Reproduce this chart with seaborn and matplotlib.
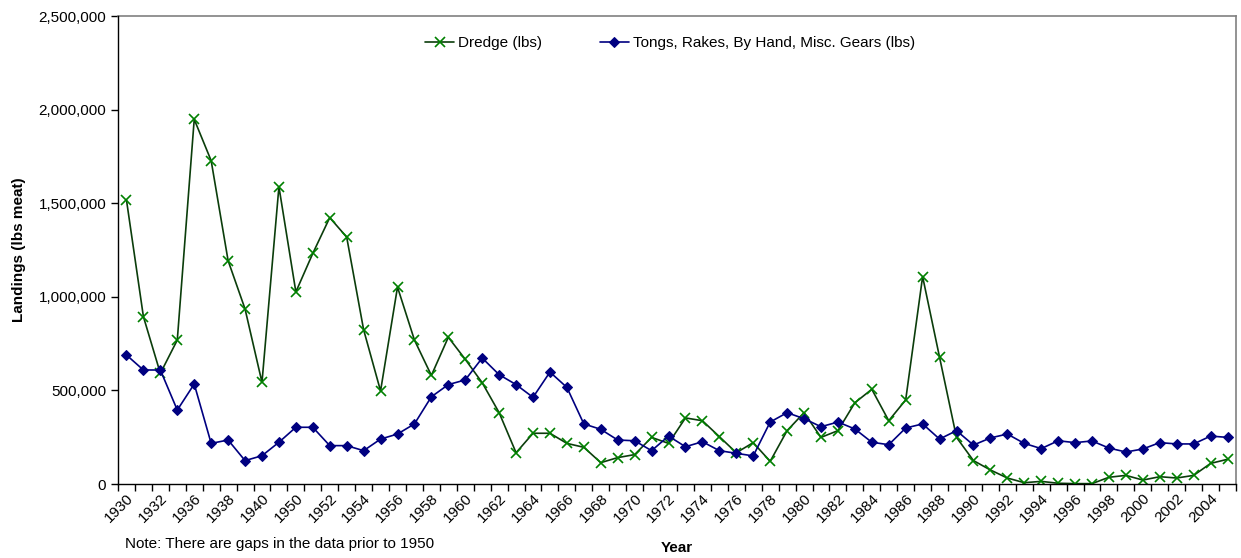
import numpy as np
import pandas as pd
import matplotlib
matplotlib.use('Agg')
import matplotlib.pyplot as plt
import seaborn as sns
from matplotlib.ticker import FuncFormatter, FixedLocator

# category years (gaps before 1950)
years = [1930, 1931, 1932, 1934, 1936, 1937, 1938, 1939, 1940, 1945] + list(range(1950, 2006))

dredge = [1517000, 894000, 591000, 769000, 1948000, 1727000, 1193000, 935000, 543000, 1588000,
          1026000, 1232000, 1423000, 1319000, 824000, 497000, 1052000, 769000, 580000, 784000,
          666000, 541000, 381000, 167000, 271000, 271000, 217000, 196000, 114000, 141000,
          157000, 249000, 217000, 353000, 338000, 253000, 167000, 221000, 121000, 285000,
          381000, 249000, 285000, 434000, 506000, 338000, 449000, 1108000, 677000, 249000,
          125000, 75000, 32000, 7000, 14000, 4000, 2000, 2000, 36000, 46000,
          21000, 39000, 32000, 46000, 110000, 132000]

tongs = [689000, 609000, 609000, 395000, 534000, 217000, 235000, 125000, 151000, 223000,
         303000, 303000, 205000, 205000, 178000, 240000, 267000, 321000, 466000, 531000,
         556000, 673000, 584000, 531000, 463000, 598000, 516000, 321000, 292000, 235000,
         231000, 178000, 256000, 199000, 226000, 178000, 164000, 150000, 331000, 381000,
         349000, 306000, 331000, 294000, 223000, 210000, 299000, 321000, 240000, 285000,
         208000, 246000, 267000, 217000, 189000, 231000, 221000, 230000, 192000, 171000,
         187000, 221000, 214000, 214000, 256000, 249000]

sns.set_style("white")
plt.rcParams['font.family'] = ['Liberation Sans', 'DejaVu Sans']
plt.rcParams['text.color'] = 'black'
plt.rcParams['axes.labelcolor'] = 'black'
plt.rcParams['xtick.color'] = 'black'
plt.rcParams['ytick.color'] = 'black'

df = pd.DataFrame({'pos': np.arange(len(years)), 'year': years,
                   'dredge': dredge, 'tongs': tongs})

fig = plt.figure(figsize=(12.41, 5.58), dpi=100)
ax = fig.add_axes([118 / 1241, 1 - 484 / 558, 1118 / 1241, 468 / 558])

sns.lineplot(data=df, x='pos', y='dredge', ax=ax, color='#0b3d0b', linewidth=1.2,
             marker='x', markersize=7, markeredgecolor='#008000', markeredgewidth=1.2,
             label='Dredge (lbs)')
sns.lineplot(data=df, x='pos', y='tongs', ax=ax, color='#000080', linewidth=1.2,
             marker='D', markersize=5.5, markeredgecolor='#000080', markerfacecolor='#000080',
             label='Tongs, Rakes, By Hand, Misc. Gears (lbs)')

ax.set_xlim(-0.5, len(years) - 0.5)
ax.set_ylim(0, 2500000)
ax.set_yticks(np.arange(0, 2500001, 500000))
ax.yaxis.set_major_formatter(FuncFormatter(lambda v, p: f'{int(v):,}'))

major = df['pos'][::2].tolist()
ax.xaxis.set_major_locator(FixedLocator(major))
ax.set_xticklabels([str(y) for y in df['year'][::2]], rotation=45, ha='right',
                   rotation_mode='anchor', fontsize=11)
ax.xaxis.set_minor_locator(FixedLocator(np.arange(-0.5, len(years), 1.0)))
ax.tick_params(axis='x', which='major', length=0, pad=5)
ax.tick_params(axis='x', which='minor', length=5, width=1, direction='out', color='black', bottom=True)
ax.tick_params(axis='y', length=5, width=1, direction='out', color='black', left=True, labelsize=11)

for s in ['top', 'right']:
    ax.spines[s].set_color('#808080')
    ax.spines[s].set_linewidth(1.2)
for s in ['left', 'bottom']:
    ax.spines[s].set_color('black')
    ax.spines[s].set_linewidth(1)
    ax.spines[s].set_zorder(5)

ax.set_xlabel('')
ax.set_ylabel('Landings (lbs meat)', fontsize=11, fontweight='bold')
ax.yaxis.set_label_coords(-0.082, 0.5)

fig.text(677 / 1241, 1 - 548 / 558, 'Year', fontsize=11, fontweight='bold', ha='center', va='center')
fig.text(125 / 1241, 1 - 544 / 558, 'Note: There are gaps in the data prior to 1950',
         fontsize=11, ha='left', va='center')

ax.legend(loc='center', bbox_to_anchor=(670 / 1241, 1 - 43 / 558), bbox_transform=fig.transFigure,
          ncol=2, frameon=False, fontsize=11, handlelength=1.9, handletextpad=0.25,
          columnspacing=3.8)

fig.savefig('out.png', dpi=100)
